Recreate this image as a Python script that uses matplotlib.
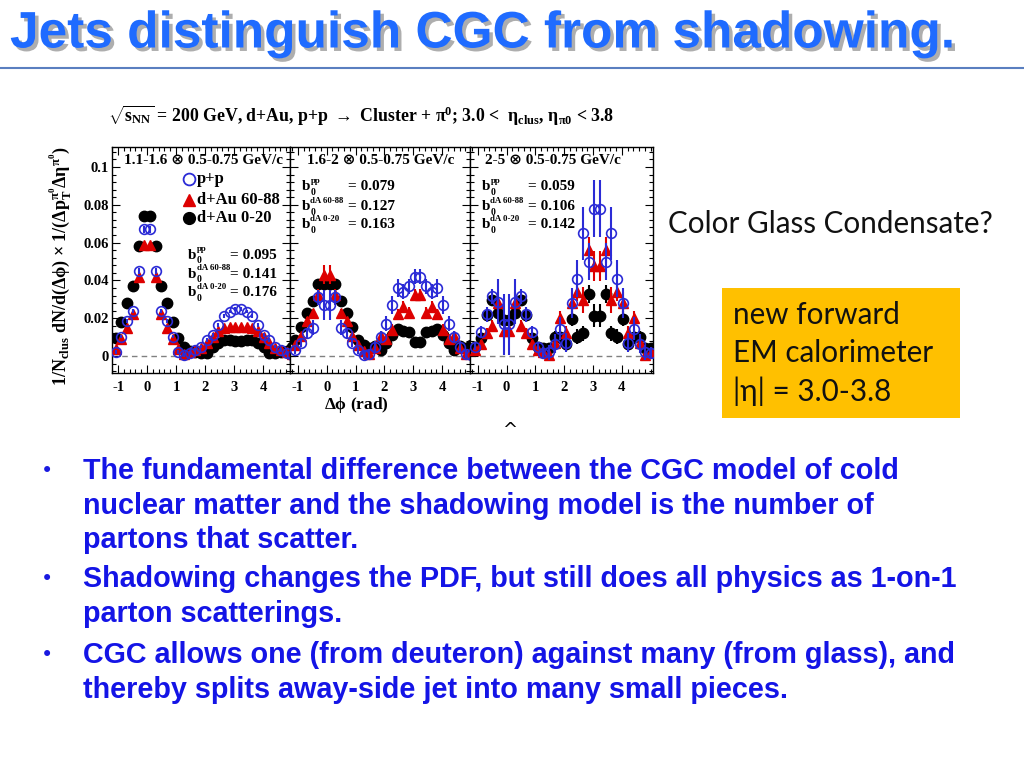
import numpy as np
import matplotlib
matplotlib.use("Agg")
import matplotlib.pyplot as plt
from matplotlib.patches import Rectangle
from matplotlib.ticker import MultipleLocator, FixedLocator
from matplotlib.transforms import offset_copy
import matplotlib.patheffects as pe

plt.rcParams['mathtext.fontset'] = 'custom'
plt.rcParams['mathtext.rm'] = 'Liberation Serif:bold'
plt.rcParams['mathtext.it'] = 'Liberation Serif:bold'
plt.rcParams['mathtext.bf'] = 'Liberation Serif:bold'
plt.rcParams['mathtext.default'] = 'rm'

# ── data : 32 bins in delta-phi, bin index -6..25, width pi/16 ────────────────
bin_index = np.arange(-6, 26)
dphi = (bin_index + 0.5) * np.pi / 16

panel_titles = ["1.1-1.6 \u2297 0.5-0.75 GeV/c",
                "1.6-2 \u2297 0.5-0.75 GeV/c",
                "2-5 \u2297 0.5-0.75 GeV/c"]
b0_pp = ["0.095", "0.079", "0.059"]
b0_dA_peri = ["0.141", "0.127", "0.106"]
b0_dA_cent = ["0.176", "0.163", "0.142"]

# panel 1 : 1.1-1.6 GeV/c
pp_1 = [0.002, 0.0103, 0.0185, 0.024, 0.045, 0.067, 0.067, 0.045, 0.024, 0.0185, 0.0103, 0.002,
        0.0005, 0.0015, 0.003, 0.005, 0.0083, 0.0113, 0.0166, 0.021, 0.0235, 0.025,
        0.025, 0.0235, 0.021, 0.0166, 0.0113, 0.0083, 0.005, 0.003, 0.0015, 0.0005]
peri_1 = [0.0035, 0.009, 0.015, 0.022, 0.042, 0.059, 0.059, 0.042, 0.022, 0.015, 0.009, 0.0035,
          0.001, 0.002, 0.003, 0.004, 0.007, 0.010, 0.013, 0.015, 0.0155, 0.0155,
          0.0155, 0.0155, 0.015, 0.013, 0.010, 0.007, 0.004, 0.003, 0.002, 0.001]
cent_1 = [0.0095, 0.018, 0.028, 0.037, 0.058, 0.074, 0.074, 0.058, 0.037, 0.028, 0.018, 0.0095,
          0.005, 0.0025, 0.002, 0.0018, 0.0015, 0.0045, 0.007, 0.0082, 0.0083, 0.008,
          0.008, 0.0083, 0.0082, 0.007, 0.0045, 0.0015, 0.0018, 0.002, 0.0025, 0.005]
pp_err_1 = [0.001, 0.001, 0.001, 0.001, 0.0015, 0.002, 0.002, 0.0015, 0.001, 0.001, 0.001, 0.001,
            0.001, 0.001, 0.001, 0.001, 0.001, 0.001, 0.001, 0.001, 0.001, 0.001,
            0.001, 0.001, 0.001, 0.001, 0.001, 0.001, 0.001, 0.001, 0.001, 0.001]
peri_err_1 = [0.0008, 0.0008, 0.0008, 0.0008, 0.001, 0.0015, 0.0015, 0.001, 0.0008, 0.0008, 0.0008, 0.0008,
              0.0008, 0.0008, 0.0008, 0.0008, 0.0008, 0.0008, 0.0008, 0.0008, 0.0008, 0.0008,
              0.0008, 0.0008, 0.0008, 0.0008, 0.0008, 0.0008, 0.0008, 0.0008, 0.0008, 0.0008]
cent_err_1 = [0.0006, 0.0006, 0.0006, 0.0006, 0.0008, 0.001, 0.001, 0.0008, 0.0006, 0.0006, 0.0006, 0.0006,
              0.0006, 0.0006, 0.0006, 0.0006, 0.0006, 0.0006, 0.0006, 0.0006, 0.0006, 0.0006,
              0.0006, 0.0006, 0.0006, 0.0006, 0.0006, 0.0006, 0.0006, 0.0006, 0.0006, 0.0006]

# panel 2 : 1.6-2 GeV/c
pp_2 = [0.003, 0.007, 0.012, 0.015, 0.031, 0.027, 0.027, 0.031, 0.015, 0.012, 0.007, 0.003,
        0.0005, 0.001, 0.005, 0.010, 0.017, 0.027, 0.036, 0.034, 0.037, 0.042,
        0.042, 0.037, 0.034, 0.036, 0.027, 0.017, 0.010, 0.005, 0.001, 0.0005]
peri_2 = [0.006, 0.0106, 0.0184, 0.023, 0.0325, 0.043, 0.043, 0.0325, 0.023, 0.0184, 0.0106, 0.006,
          0.0026, 0.001, 0.004, 0.0107, 0.009, 0.014, 0.022, 0.026, 0.023, 0.0325,
          0.0325, 0.023, 0.026, 0.022, 0.014, 0.009, 0.0107, 0.004, 0.001, 0.0026]
cent_2 = [0.0085, 0.0154, 0.0225, 0.029, 0.038, 0.038, 0.038, 0.038, 0.029, 0.0225, 0.0154, 0.0085,
          0.006, 0.004, 0.0055, 0.003, 0.007, 0.011, 0.0145, 0.013, 0.0125, 0.0075,
          0.0075, 0.0125, 0.013, 0.0145, 0.011, 0.007, 0.003, 0.0055, 0.004, 0.006]
pp_err_2 = [0.002, 0.002, 0.003, 0.004, 0.004, 0.008, 0.008, 0.004, 0.004, 0.003, 0.002, 0.002,
            0.002, 0.002, 0.003, 0.003, 0.004, 0.005, 0.005, 0.004, 0.004, 0.004,
            0.004, 0.004, 0.004, 0.005, 0.005, 0.004, 0.003, 0.003, 0.002, 0.002]
peri_err_2 = [0.0015, 0.0015, 0.002, 0.002, 0.003, 0.005, 0.005, 0.003, 0.002, 0.002, 0.0015, 0.0015,
              0.0015, 0.0015, 0.002, 0.002, 0.002, 0.003, 0.003, 0.003, 0.003, 0.003,
              0.003, 0.003, 0.003, 0.003, 0.003, 0.002, 0.002, 0.002, 0.0015, 0.0015]
cent_err_2 = [0.001, 0.001, 0.001, 0.0015, 0.0015, 0.002, 0.002, 0.0015, 0.0015, 0.001, 0.001, 0.001,
              0.001, 0.001, 0.0015, 0.0015, 0.0015, 0.0015, 0.002, 0.002, 0.002, 0.002,
              0.002, 0.002, 0.002, 0.002, 0.0015, 0.0015, 0.0015, 0.0015, 0.001, 0.001]

# panel 3 : 2-5 GeV/c
pp_3 = [0.005, 0.0128, 0.022, 0.0315, 0.0288, 0.0167, 0.0167, 0.0288, 0.0315, 0.022, 0.0128, 0.005,
        0.0015, 0.002, 0.0066, 0.0145, 0.007, 0.028, 0.041, 0.065, 0.050, 0.078,
        0.078, 0.050, 0.065, 0.041, 0.028, 0.007, 0.0145, 0.0066, 0.002, 0.0015]
peri_3 = [0.003, 0.0066, 0.012, 0.016, 0.028, 0.013, 0.013, 0.028, 0.016, 0.012, 0.0066, 0.003,
          0.002, 0.0005, 0.007, 0.020, 0.012, 0.028, 0.034, 0.0295, 0.056, 0.0475,
          0.0475, 0.056, 0.0295, 0.034, 0.028, 0.012, 0.020, 0.007, 0.0005, 0.002]
cent_3 = [0.005, 0.0093, 0.0218, 0.0298, 0.023, 0.019, 0.019, 0.023, 0.0298, 0.0218, 0.0093, 0.005,
          0.004, 0.004, 0.0102, 0.0102, 0.0066, 0.0197, 0.0102, 0.012, 0.0328, 0.0214,
          0.0214, 0.0328, 0.012, 0.0102, 0.0197, 0.0066, 0.0102, 0.0102, 0.004, 0.004]
pp_err_3 = [0.002, 0.003, 0.004, 0.004, 0.012, 0.016, 0.016, 0.012, 0.004, 0.004, 0.003, 0.002,
            0.003, 0.004, 0.005, 0.006, 0.005, 0.008, 0.010, 0.014, 0.010, 0.015,
            0.015, 0.010, 0.014, 0.010, 0.008, 0.005, 0.006, 0.005, 0.004, 0.003]
peri_err_3 = [0.002, 0.002, 0.003, 0.003, 0.006, 0.004, 0.004, 0.006, 0.003, 0.003, 0.002, 0.002,
              0.002, 0.002, 0.003, 0.004, 0.004, 0.006, 0.005, 0.007, 0.007, 0.008,
              0.008, 0.007, 0.007, 0.005, 0.006, 0.004, 0.004, 0.003, 0.002, 0.002]
cent_err_3 = [0.0015, 0.002, 0.002, 0.002, 0.003, 0.003, 0.003, 0.003, 0.002, 0.002, 0.002, 0.0015,
              0.002, 0.002, 0.003, 0.004, 0.004, 0.004, 0.004, 0.004, 0.005, 0.006,
              0.006, 0.005, 0.004, 0.004, 0.004, 0.004, 0.004, 0.003, 0.002, 0.002]

pp_sets = [pp_1, pp_2, pp_3]
peri_sets = [peri_1, peri_2, peri_3]
cent_sets = [cent_1, cent_2, cent_3]
pp_errs = [pp_err_1, pp_err_2, pp_err_3]
peri_errs = [peri_err_1, peri_err_2, peri_err_3]
cent_errs = [cent_err_1, cent_err_2, cent_err_3]

bullets = [
    "The fundamental difference between the CGC model of cold\nnuclear matter and the shadowing model is the number of\npartons that scatter.",
    "Shadowing changes the PDF, but still does all physics as 1-on-1\nparton scatterings.",
    "CGC allows one (from deuteron) against many (from glass), and\nthereby splits away-side jet into many small pieces.",
]

# ── figure ───────────────────────────────────────────────────────────────────
W, H = 1024, 768
fig = plt.figure(figsize=(10.24, 7.68), dpi=100)
fig.patch.set_facecolor("white")


def fx(px):
    return px / W


def fy(py):
    return 1 - py / H


BLUE = "#2b2bd6"
RED = "#dd0000"
SERIF = ["Liberation Serif", "DejaVu Sans"]

# title + rule
fig.text(fx(10), fy(34), "Jets distinguish CGC from shadowing.", fontsize=37,
         fontweight="bold", family=["Liberation Sans", "DejaVu Sans"], color="#1f6bff",
         va="center", ha="left",
         path_effects=[pe.withSimplePatchShadow(offset=(2.5, -2.5), shadow_rgbFace="#9a9a9a", alpha=0.8)])
fig.add_artist(plt.Line2D([0, 1], [fy(68), fy(68)], color="#5a7fc0", lw=1.5))

# header over the panels
fig.text(fx(108), fy(116),
         r"$\sqrt{s_{\text{NN}}}$ = 200 GeV, d+Au, p+p $\rightarrow$ Cluster + $\pi^{0}$; 3.0 <  $\eta_{\text{clus}}$, $\eta_{\pi0}$ < 3.8",
         fontsize=12.8, family="Liberation Serif", fontweight="bold", va="center", ha="left")

# ── three panels ─────────────────────────────────────────────────────────────
boxes = [(112, 290), (290, 470), (470, 653)]
xlims = [(-1.21, 4.93), (-1.27, 4.96), (-1.27, 5.08)]
top_px, bot_px = 147, 373

axes = []
for i, ((l, r), xl) in enumerate(zip(boxes, xlims)):
    ax = fig.add_axes([fx(l), fy(bot_px), fx(r - l), (bot_px - top_px) / H])
    axes.append(ax)
    ax.axhline(0, color="#808080", lw=1.0, ls=(0, (4, 3)), zorder=1)

    ax.errorbar(dphi, cent_sets[i], yerr=cent_errs[i], fmt="o", ms=7.5, color="black",
                ecolor="black", elinewidth=1.5, capsize=0, zorder=3)
    ax.errorbar(dphi, peri_sets[i], yerr=peri_errs[i], fmt="^", ms=7, color=RED,
                ecolor=RED, elinewidth=1.5, capsize=0, zorder=4)
    ax.errorbar(dphi, pp_sets[i], yerr=pp_errs[i], fmt="o", ms=7, mfc="none", mec=BLUE,
                mew=1.2, ecolor=BLUE, elinewidth=1.5, capsize=0, zorder=5)

    ax.set_xlim(*xl)
    ax.set_ylim(-0.009, 0.1106)
    ax.xaxis.set_major_locator(FixedLocator([-1, 0, 1, 2, 3, 4]))
    ax.xaxis.set_minor_locator(MultipleLocator(0.2))
    ax.yaxis.set_major_locator(FixedLocator([0, 0.02, 0.04, 0.06, 0.08, 0.1]))
    ax.yaxis.set_minor_locator(MultipleLocator(0.004))
    ax.tick_params(which="both", direction="in", top=True, right=True, width=0.8)
    ax.tick_params(which="major", length=6)
    ax.tick_params(which="minor", length=3)
    ax.tick_params(axis="x", pad=6)
    ax.tick_params(axis="y", pad=2)
    ax.set_xticklabels(["-1", "0", "1", "2", "3", "4"], fontsize=10.5,
                       family="Liberation Serif", fontweight="bold")
    if i == 0:
        ax.set_yticklabels(["0", "0.02", "0.04", "0.06", "0.08", "0.1"], fontsize=10.5,
                           family="Liberation Serif", fontweight="bold")
    else:
        ax.set_yticklabels([])
    for s in ax.spines.values():
        s.set_linewidth(1.0)

    ax.text(0.07 if i == 0 else (0.093 if i == 1 else 0.082), 0.942, panel_titles[i],
            transform=ax.transAxes, fontsize=11, family=SERIF, fontweight="bold",
            va="center", ha="left")

    if i == 0:
        bx, ex, ys = 0.427, 0.663, [0.522, 0.438, 0.356]
    elif i == 1:
        bx, ex, ys = 0.065, 0.324, [0.824, 0.736, 0.655]
    else:
        bx, ex, ys = 0.064, 0.319, [0.824, 0.736, 0.655]
    t_sub = offset_copy(ax.transAxes, fig=fig, x=6.3, y=-4.0, units="points")
    t_sup = offset_copy(ax.transAxes, fig=fig, x=6.3, y=4.0, units="points")
    sups = ["pp", "dA 60-88", "dA 0-20"]
    vals = [b0_pp[i], b0_dA_peri[i], b0_dA_cent[i]]
    for sup, v, yy in zip(sups, vals, ys):
        ax.text(bx, yy, "b", transform=ax.transAxes, fontsize=11, family="Liberation Serif",
                fontweight="bold", va="center", ha="left")
        ax.text(bx, yy, "0", transform=t_sub, fontsize=7, family="Liberation Serif",
                fontweight="bold", va="center", ha="left")
        ax.text(bx, yy, sup, transform=t_sup, fontsize=6.3, family="Liberation Serif",
                fontweight="bold", va="center", ha="left")
        ax.text(ex, yy, "= " + v, transform=ax.transAxes, fontsize=11, family="Liberation Serif",
                fontweight="bold", va="center", ha="left")

# legend in panel 1
ax0 = axes[0]
leg_y = [0.857, 0.765, 0.684]
ax0.plot([0.434], [leg_y[0]], "o", ms=8.5, mfc="none", mec=BLUE, mew=1.3, transform=ax0.transAxes)
ax0.plot([0.434], [leg_y[1]], "^", ms=8, color=RED, transform=ax0.transAxes)
ax0.plot([0.434], [leg_y[2]], "o", ms=8.5, color="black", transform=ax0.transAxes)
for yy, lab in zip(leg_y, ["p+p", "d+Au 60-88", "d+Au 0-20"]):
    ax0.text(0.478, yy, lab, transform=ax0.transAxes, fontsize=12, family="Liberation Serif",
             fontweight="bold", va="center", ha="left")

# axis titles
fig.text(fx(60), fy(266),
         r"1/N$_{\text{clus}}$ dN/d($\Delta\phi$) $\times$ 1/($\Delta$p$_{\text{T}}^{\pi^{0}}\Delta\eta^{\pi^{0}}$)",
         rotation=90, fontsize=13, family="Liberation Serif", fontweight="bold",
         va="center", ha="center")
fig.text(fx(356), fy(405), r"$\Delta\phi$ (rad)", fontsize=12.5, family="Liberation Serif",
         fontweight="bold", va="center", ha="center")
fig.text(fx(510), fy(430), "^", fontsize=13, family="DejaVu Sans", va="center", ha="center")

# right-hand notes
fig.text(fx(668), fy(224), "Color Glass Condensate?", fontsize=21.3, family="Lato",
         va="center", ha="left", color="#111111")
fig.add_artist(Rectangle((fx(722), fy(418)), fx(960 - 722), (418 - 288) / H,
                         transform=fig.transFigure, facecolor="#ffc000", edgecolor="none"))
for yy, line in zip([315, 353, 391], ["new forward", "EM calorimeter", "|\u03b7| = 3.0-3.8"]):
    fig.text(fx(733), fy(yy), line, fontsize=21.3, family=["Lato", "DejaVu Sans"],
             va="center", ha="left", color="#111111")

# bullets
line_h = 34.5
y0 = [471, 579, 655]
for yb, txt in zip(y0, bullets):
    fig.text(fx(47), fy(yb), "\u2022", fontsize=15, color="#1a1ae0", va="center", ha="center",
             family="DejaVu Sans")
    for j, ln in enumerate(txt.split("\n")):
        fig.text(fx(83), fy(yb + j * line_h), ln, fontsize=20.7, fontweight="bold",
                 family="Liberation Sans", color="#1414e6", va="center", ha="left")

fig.savefig("out.png", dpi=100, facecolor="white")
